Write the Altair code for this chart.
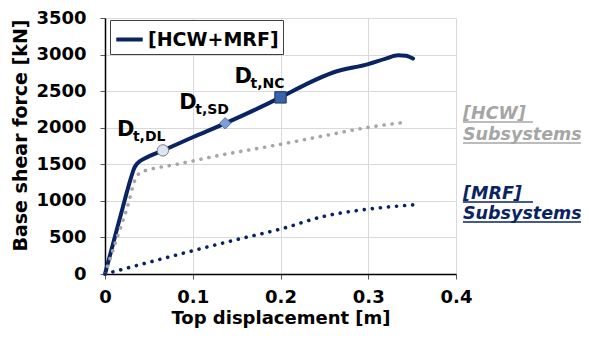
import altair as alt
import pandas as pd

# Pushover curve [HCW+MRF]
tot_x = [0.0, 0.01, 0.02, 0.03, 0.033, 0.036, 0.04, 0.045, 0.051, 0.058, 0.066, 0.1, 0.137, 0.17, 0.2, 0.23, 0.26, 0.3, 0.32, 0.334, 0.343, 0.351]
tot_y = [0, 450, 900, 1330, 1440, 1500, 1545, 1580, 1614, 1650, 1690, 1870, 2060, 2240, 2415, 2600, 2755, 2870, 2945, 2990, 2985, 2945]

# [HCW] subsystems
hcw_x = [0.0, 0.015, 0.027, 0.033, 0.037, 0.042, 0.05, 0.082, 0.127, 0.2, 0.25, 0.3, 0.345]
hcw_y = [0, 540, 978, 1250, 1350, 1395, 1425, 1500, 1614, 1773, 1890, 2005, 2078]

# [MRF] subsystems
mrf_x = [0.0, 0.05, 0.1, 0.15, 0.2, 0.25, 0.3, 0.351]
mrf_y = [0, 160, 318, 470, 614, 790, 887, 945]

# Performance points
pt_name = ["DL", "SD", "NC"]
pt_x = [0.066, 0.137, 0.2]
pt_y = [1690, 2060, 2415]
pt_shape = ["circle", "diamond", "square"]

x_ticks = [0, 0.1, 0.2, 0.3, 0.4]
y_ticks = [0, 500, 1000, 1500, 2000, 2500, 3000, 3500]

NAVY = "#0a2463"
GRAY = "#a6a6a6"
FONT = "DejaVu Sans"

tot = pd.DataFrame({"x": tot_x, "y": tot_y, "s": "[HCW+MRF]"})
hcw = pd.DataFrame({"x": hcw_x, "y": hcw_y})
mrf = pd.DataFrame({"x": mrf_x, "y": mrf_y})
pts = pd.DataFrame({"x": pt_x, "y": pt_y, "name": pt_name, "shape": pt_shape,
                    "sub": ["t," + n for n in pt_name]})

xs = alt.Scale(domain=[0, 0.4], nice=False, zero=True)
ys = alt.Scale(domain=[0, 3500], nice=False, zero=True)

X = alt.X("x:Q", scale=xs, title="Top displacement [m]",
          axis=alt.Axis(values=x_ticks, format="~g", labelFlush=False, labelOverlap=False))
Y = alt.Y("y:Q", scale=ys, title="Base shear force [kN]",
          axis=alt.Axis(values=y_ticks, format="d", labelFlush=False, labelOverlap=False,
                        tickCount=8, titleY=117, titleFontSize=19))

main = alt.Chart(tot).mark_line(strokeWidth=4, strokeCap="round", strokeJoin="round",
                                interpolate="monotone").encode(
    x=X, y=Y,
    color=alt.Color("s:N", scale=alt.Scale(domain=["[HCW+MRF]"], range=[NAVY]),
                    legend=alt.Legend(title=None, orient="none", legendX=5, legendY=2,
                                      symbolType="stroke", symbolStrokeWidth=4, symbolSize=700,
                                      labelFont=FONT, labelFontSize=19, labelFontWeight="bold",
                                      labelColor="#000000", strokeColor="#404040",
                                      fillColor="white", padding=4, labelOffset=3))
)

hcw_line = alt.Chart(hcw).mark_line(strokeWidth=3.6, strokeCap="round", strokeDash=[0.1, 8],
                                    color=GRAY, interpolate="monotone").encode(x=X, y=Y)
mrf_line = alt.Chart(mrf).mark_line(strokeWidth=3.6, strokeCap="round", strokeDash=[0.1, 8],
                                    color=NAVY, interpolate="monotone").encode(x=X, y=Y)

markers = alt.Chart(pts).mark_point(filled=True, size=130, strokeWidth=1, opacity=1).encode(
    x=X, y=Y,
    shape=alt.Shape("shape:N", scale=None, legend=None),
    fill=alt.Fill("name:N", scale=alt.Scale(domain=pt_name, range=["#dce6f2", "#7f9fd6", "#3b62ad"]), legend=None),
    stroke=alt.Stroke("name:N", scale=alt.Scale(domain=pt_name, range=["#7f7f7f", "#4f73b8", "#1f3566"]), legend=None),
)

lab_D = alt.Chart(pts).mark_text(text="D", font=FONT, fontWeight="bold", fontSize=21,
                                  align="left", baseline="alphabetic", dx=-46, dy=-14,
                                  color="#000000").encode(x=X, y=Y)
lab_sub = alt.Chart(pts).mark_text(font=FONT, fontWeight="bold", fontSize=14,
                                    align="left", baseline="alphabetic", dx=-30, dy=-9,
                                    color="#000000").encode(x=X, y=Y, text="sub:N")

# Right-side annotations (pixel positions relative to plot area)
ann_text = ["[HCW]", "Subsystems", "[MRF] ", "Subsystems"]
ann_color = [GRAY, GRAY, NAVY, NAVY]
ann_py = [101, 122, 181, 201]
ul_len = [70, 118, 70, 118]

one = pd.DataFrame({"k": [0]})
layers = [main, hcw_line, mrf_line, markers, lab_D, lab_sub]
for t, c, py, ln in zip(ann_text, ann_color, ann_py, ul_len):
    layers.append(alt.Chart(one).mark_text(text=t, font=FONT, fontWeight="bold", fontStyle="italic",
                                           fontSize=17.5, align="left", baseline="alphabetic",
                                           color=c).encode(x=alt.value(358), y=alt.value(py)))
    layers.append(alt.Chart(one).mark_rule(strokeWidth=1.5, color=c).encode(
        x=alt.value(358), x2=alt.value(358 + ln), y=alt.value(py + 3)))

chart = alt.layer(*layers).resolve_scale(
    color="independent", fill="independent", stroke="independent"
).properties(
    width=351, height=256,
    autosize=alt.AutoSizeParams(type="none"),
    padding={"left": 97, "top": 10, "right": 125, "bottom": 56},
    background="white",
).configure_axis(
    labelFont=FONT, labelFontSize=18, labelFontWeight="bold", labelColor="#000000",
    titleFont=FONT, titleFontSize=18, titleFontWeight="bold", titleColor="#000000",
    gridColor="#d9d9d9", gridWidth=1, domainColor="#000000", domainWidth=1.5,
    tickColor="#595959", tickSize=5,
).configure_axisY(labelPadding=14, titlePadding=5).configure_axisX(labelPadding=9, titlePadding=3
).configure_view(stroke=None)

chart.save("out.html", embed_options={"renderer": "svg", "actions": False})
